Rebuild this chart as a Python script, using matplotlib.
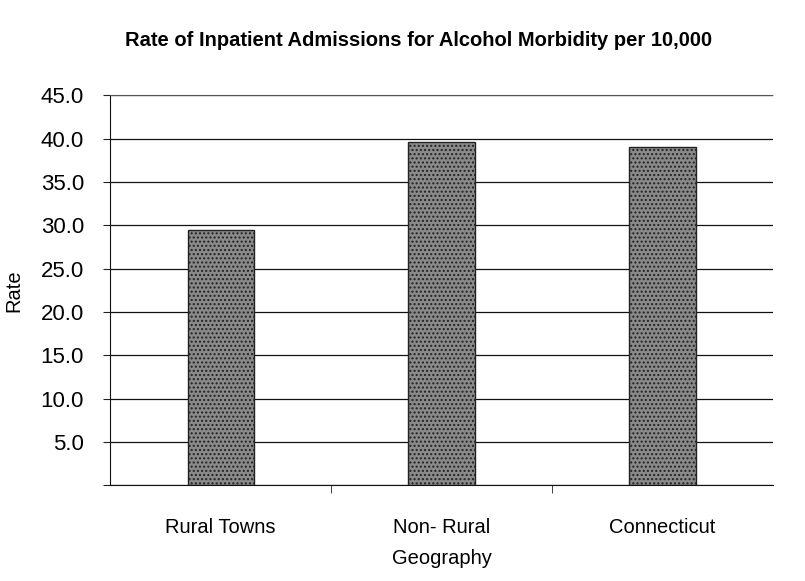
import matplotlib
matplotlib.use("Agg")
import matplotlib.pyplot as plt
import numpy as np

categories = ["Rural Towns", "Non- Rural", "Connecticut"]
rates = [29.5, 39.6, 39.0]
yticks = [0, 5, 10, 15, 20, 25, 30, 35, 40, 45]
ytick_labels = ["", "5.0", "10.0", "15.0", "20.0", "25.0", "30.0", "35.0", "40.0", "45.0"]

plt.rcParams['font.family'] = ['Liberation Sans', 'DejaVu Sans']

fig = plt.figure(figsize=(8.05, 5.81), dpi=100)
ax = fig.add_axes([0.137, 0.165, 0.823, 0.671])

x = np.arange(len(categories))
ax.bar(x, rates, width=0.3, color='#8a8a8a', edgecolor='#222222', linewidth=1.0,
       hatch='....', zorder=3)

ax.set_xlim(-0.5, 2.5)
ax.set_ylim(0, 45)
ax.set_yticks(yticks)
ax.set_yticklabels(ytick_labels, fontsize=16)
ax.set_xticks(x)
ax.set_xticklabels(categories, fontsize=14.5)
ax.tick_params(axis='x', length=0, pad=24)
ax.set_xticks([0.5, 1.5], minor=True)
ax.tick_params(axis='x', which='minor', length=6, color='#222222')
ax.tick_params(axis='y', length=5, color='#222222', pad=14)

ax.grid(axis='y', color='#111111', linewidth=0.9, zorder=0)
ax.set_axisbelow(True)
ax.spines['right'].set_visible(False)
ax.spines['top'].set_linestyle((0, (2, 1)))
ax.spines['top'].set_color('#555555')
ax.spines['left'].set_color('#111111')
ax.spines['bottom'].set_color('#111111')

ax.set_ylabel("Rate", fontsize=14.5, labelpad=12)
ax.set_xlabel("Geography", fontsize=14.5, labelpad=8)

fig.text(0.52, 0.93, "Rate of Inpatient Admissions for Alcohol Morbidity per 10,000",
         ha='center', va='center', fontsize=14.5, fontweight='bold')

fig.savefig("out.png", dpi=100)
